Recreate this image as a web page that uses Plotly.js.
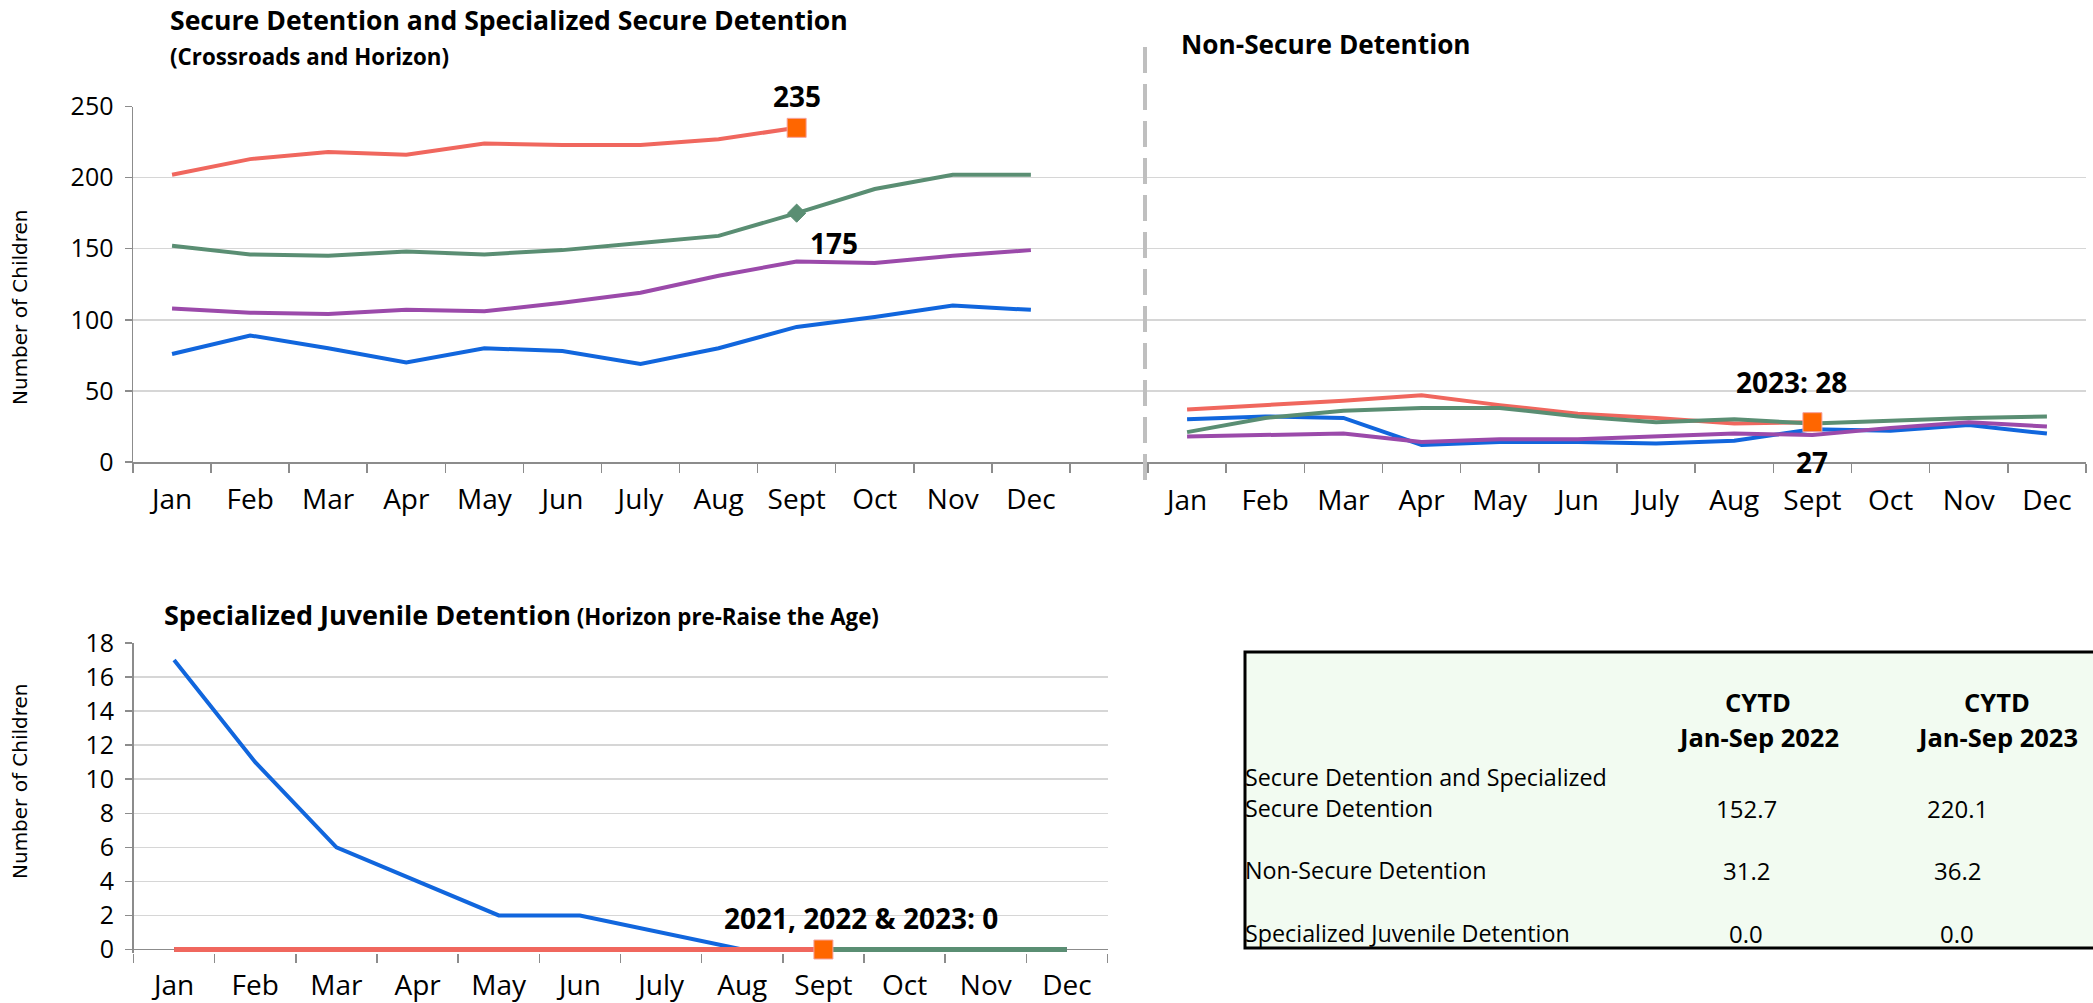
<!DOCTYPE html>
<html>
<head>
<meta charset="utf-8">
<script src="https://cdn.plot.ly/plotly-3.0.1.min.js"></script>
<style>
  html, body { margin: 0; padding: 0; background: #ffffff; }
  #chart { width: 2093px; height: 1003px; }
</style>
</head>
<body>
<div id="chart"></div>
<script>
// ---------------- DATA ----------------
const months = ['Jan', 'Feb', 'Mar', 'Apr', 'May', 'Jun', 'July', 'Aug', 'Sept', 'Oct', 'Nov', 'Dec'];

// Secure Detention and Specialized Secure Detention (Crossroads and Horizon)
const secure2020 = [76, 89, 80, 70, 80, 78, 69, 80, 95, 102, 110, 107];
const secure2021 = [108, 105, 104, 107, 106, 112, 119, 131, 141, 140, 145, 149];
const secure2022 = [152, 146, 145, 148, 146, 149, 154, 159, 175, 192, 202, 202];
const secure2023 = [202, 213, 218, 216, 224, 223, 223, 227, 235];

// Non-Secure Detention
const nonSecure2020 = [30, 32, 31, 12, 14, 14, 13, 15, 23, 22, 26, 20];
const nonSecure2021 = [18, 19, 20, 14, 16, 16, 18, 20, 19, 24, 28, 25];
const nonSecure2022 = [21, 31, 36, 38, 38, 32, 28, 30, 27, 29, 31, 32];
const nonSecure2023 = [37, 40, 43, 47, 40, 34, 31, 27, 28];

// Specialized Juvenile Detention (Horizon pre-Raise the Age)
const sjd2020 = [17, 11, 6, 4, 2, 2, 1, 0, 0, 0, 0, 0];
const sjd2021 = [0, 0, 0, 0, 0, 0, 0, 0, 0, 0, 0, 0];
const sjd2022 = [0, 0, 0, 0, 0, 0, 0, 0, 0, 0, 0, 0];
const sjd2023 = [0, 0, 0, 0, 0, 0, 0, 0, 0];

// Summary table
const tableHeaders = ['CYTD<br>Jan-Sep 2022', 'CYTD<br>Jan-Sep 2023'];
const tableRowLabels = ['Secure Detention and Specialized<br>Secure Detention', 'Non-Secure Detention', 'Specialized Juvenile Detention'];
const cytd2022 = [152.7, 31.2, 0.0];
const cytd2023 = [220.1, 36.2, 0.0];

// Data labels
const secureLabel2023 = String(secure2023[secure2023.length - 1]);
const secureLabel2022 = String(secure2022[8]);
const nonSecureLabel2023 = '2023: ' + nonSecure2023[nonSecure2023.length - 1];
const nonSecureLabel2022 = String(nonSecure2022[8]);
const sjdLabel = '2021, 2022 & 2023: ' + sjd2023[sjd2023.length - 1];

// ---------------- STYLE ----------------
const W = 2093, H = 1003;
const px = x => x / W;
const py = y => 1 - y / H;
const FONT = '"Open Sans", Carlito, Lato, sans-serif';
const C2020 = '#1166DD', C2021 = '#9B4AAA', C2022 = '#5A8E73', C2023 = '#F0675E', CMARK = '#FF6600';

function line(x, y, color, xa, ya, width) {
  return { type: 'scatter', mode: 'lines', x: x, y: y, xaxis: xa, yaxis: ya,
           line: { color: color, width: width || 4 }, hoverinfo: 'skip', showlegend: false, cliponaxis: false };
}
function marker(x, y, symbol, color, size, xa, ya, lineColor) {
  return { type: 'scatter', mode: 'markers', x: x, y: y, xaxis: xa, yaxis: ya,
           marker: { symbol: symbol, color: color, size: size, line: { color: lineColor || color, width: 1 } },
           hoverinfo: 'skip', showlegend: false, cliponaxis: false };
}

const traces = [
  // top-left
  line(months, secure2020, C2020, 'x', 'y'),
  line(months, secure2021, C2021, 'x', 'y'),
  line(months, secure2022, C2022, 'x', 'y'),
  line(months.slice(0, secure2023.length), secure2023, C2023, 'x', 'y'),
  marker([months[8]], [secure2022[8]], 'diamond', C2022, 14, 'x', 'y'),
  marker([months[secure2023.length - 1]], [secure2023[secure2023.length - 1]], 'square', CMARK, 19, 'x', 'y', '#F5A3A0'),
  // top-right
  line(months, nonSecure2020, C2020, 'x2', 'y2'),
  line(months, nonSecure2021, C2021, 'x2', 'y2'),
  line(months.slice(0, nonSecure2023.length), nonSecure2023, C2023, 'x2', 'y2'),
  line(months, nonSecure2022, C2022, 'x2', 'y2'),
  marker([months[nonSecure2023.length - 1]], [nonSecure2023[nonSecure2023.length - 1]], 'square', CMARK, 19, 'x2', 'y2', '#F5A3A0'),
  // bottom
  line(months, sjd2020, C2020, 'x3', 'y3', 4),
  line(months, sjd2021, C2021, 'x3', 'y3', 5),
  line(months, sjd2022, C2022, 'x3', 'y3', 5),
  line(months.slice(0, sjd2023.length), sjd2023, C2023, 'x3', 'y3', 5),
  marker([months[sjd2023.length - 1]], [sjd2023[sjd2023.length - 1]], 'square', CMARK, 19, 'x3', 'y3', '#F5A3A0')
];

const axisCommon = {
  type: 'category', showline: true, linecolor: '#8c8c8c', linewidth: 1.5,
  ticks: 'outside', tickson: 'boundaries', ticklen: 9, tickcolor: '#8c8c8c', tickwidth: 1.5,
  showgrid: false, zeroline: false, fixedrange: true,
  tickfont: { family: FONT, size: 28, color: '#000' }, ticklabelstandoff: 11
};
const yCommon = {
  showline: true, linecolor: '#8c8c8c', linewidth: 1.5, ticks: 'outside', ticklen: 7,
  tickcolor: '#8c8c8c', tickwidth: 1.5, showgrid: true, gridcolor: '#D6D6D6', gridwidth: 1.5,
  zeroline: false, fixedrange: true, tickfont: { family: FONT, size: 25, color: '#000' }, ticklabelstandoff: 6
};

const annotations = [];
function ann(text, x, y, size, opts) {
  annotations.push(Object.assign({ text: text, x: px(x), y: py(y), xref: 'paper', yref: 'paper',
    showarrow: false, font: { family: FONT, size: size, color: '#000' }, xanchor: 'left', yanchor: 'middle' }, opts || {}));
}
// titles
ann('<b>Secure Detention and Specialized Secure Detention</b>', 168, 20, 26.6);
ann('<b>(Crossroads and Horizon)</b>', 168, 56, 22.3);
ann('<b>Non-Secure Detention</b>', 1179, 44, 26.2);
ann('<b>Specialized Juvenile Detention</b><span style="font-size:22.3px"><b> (Horizon pre-Raise the Age)</b></span>', 162, 614, 27);
// y-axis titles
const yTitleFont = { family: 'DejaVu Sans, Verdana, sans-serif', size: 20, color: '#000' };
ann('Number of Children', 20, 307, 20, { textangle: -90, xanchor: 'center', font: yTitleFont });
ann('Number of Children', 20, 781, 20, { textangle: -90, xanchor: 'center', font: yTitleFont });

// data labels (anchored on the data points)
function dl(text, xa, ya, x, y, xs, ys) {
  annotations.push({ text: '<b>' + text + '</b>', x: x, y: y, xref: xa, yref: ya, showarrow: false,
    xshift: xs, yshift: ys, font: { family: FONT, size: 28, color: '#000' }, xanchor: 'center', yanchor: 'middle' });
}
dl(secureLabel2023, 'x', 'y', months[secure2023.length - 1], secure2023[secure2023.length - 1], 0, 32);
dl(secureLabel2022, 'x', 'y', months[8], secure2022[8], 37, -30);
dl(nonSecureLabel2023, 'x2', 'y2', months[nonSecure2023.length - 1], nonSecure2023[nonSecure2023.length - 1], -21, 40);
dl(nonSecureLabel2022, 'x2', 'y2', months[8], nonSecure2022[8], 0, -38);
dl(sjdLabel, 'x3', 'y3', months[sjd2023.length - 1], sjd2023[sjd2023.length - 1], 38, 32);

// table text
const colX = [1758, 1997];
const valX = [1746, 1957];
tableHeaders.forEach((h, c) => {
  h.split('<br>').forEach((t, i) => {
    ann('<b>' + t + '</b>', colX[c], 702 + i * 35, 25.5, { xanchor: 'center' });
  });
});
const rowY = [808, 870, 933];
tableRowLabels.forEach((r, k) => {
  const parts = r.split('<br>');
  parts.forEach((t, i) => {
    ann(t, 1243, rowY[k] - (parts.length - 1 - i) * 31, 23.3);
  });
  ann(cytd2022[k].toFixed(1), valX[0], rowY[k], 24, { xanchor: 'center' });
  ann(cytd2023[k].toFixed(1), valX[1], rowY[k], 24, { xanchor: 'center' });
});

// bottom chart: 0 at 949.5px, 18 at 643px; small pad below 0 so the zero lines are not clipped
const yPad = -0.2;
const unitPx = (949.5 - 643) / 18;

const layout = {
  width: W, height: H, autosize: false,
  margin: { l: 0, r: 0, t: 0, b: 0, pad: 0 },
  paper_bgcolor: '#ffffff', plot_bgcolor: 'rgba(0,0,0,0)',
  showlegend: false,
  xaxis: Object.assign({}, axisCommon, { domain: [px(133), px(1148)], range: [-0.5, 12.5], anchor: 'y', ticklabelstandoff: 12 }),
  yaxis: Object.assign({}, yCommon, { domain: [py(462), py(106.5)], range: [0, 250], dtick: 50, anchor: 'x' }),
  xaxis2: Object.assign({}, axisCommon, { domain: [px(1148), px(2086)], range: [-0.5, 11.5], anchor: 'y2', ticklabelstandoff: 13 }),
  yaxis2: Object.assign({}, yCommon, { domain: [py(462), py(106.5)], range: [0, 250], dtick: 50, anchor: 'x2',
    showline: false, ticks: '', showticklabels: false }),
  xaxis3: Object.assign({}, axisCommon, { domain: [px(133.5), px(1107.5)], range: [-0.5, 11.5], anchor: 'y3',
    ticklabelstandoff: 13, showline: false }),
  yaxis3: Object.assign({}, yCommon, { domain: [py(949.5 - yPad * unitPx), py(643)], range: [yPad, 18], dtick: 2, tick0: 0,
    anchor: 'x3', zeroline: true, zerolinecolor: '#8c8c8c', zerolinewidth: 1.5 }),
  annotations: annotations,
  shapes: [
    { type: 'line', xref: 'paper', yref: 'paper', x0: px(1145), x1: px(1145), y0: py(47), y1: py(487),
      line: { color: '#BFBFBF', width: 4, dash: '26px,11px' } },
    { type: 'rect', xref: 'paper', yref: 'paper', x0: px(1245), x1: px(2100), y0: py(652), y1: py(948),
      fillcolor: '#F2FBF1', line: { color: '#000000', width: 3 }, layer: 'below' }
  ]
};

Plotly.newPlot('chart', traces, layout, { staticPlot: true, displayModeBar: false });
</script>
</body>
</html>
